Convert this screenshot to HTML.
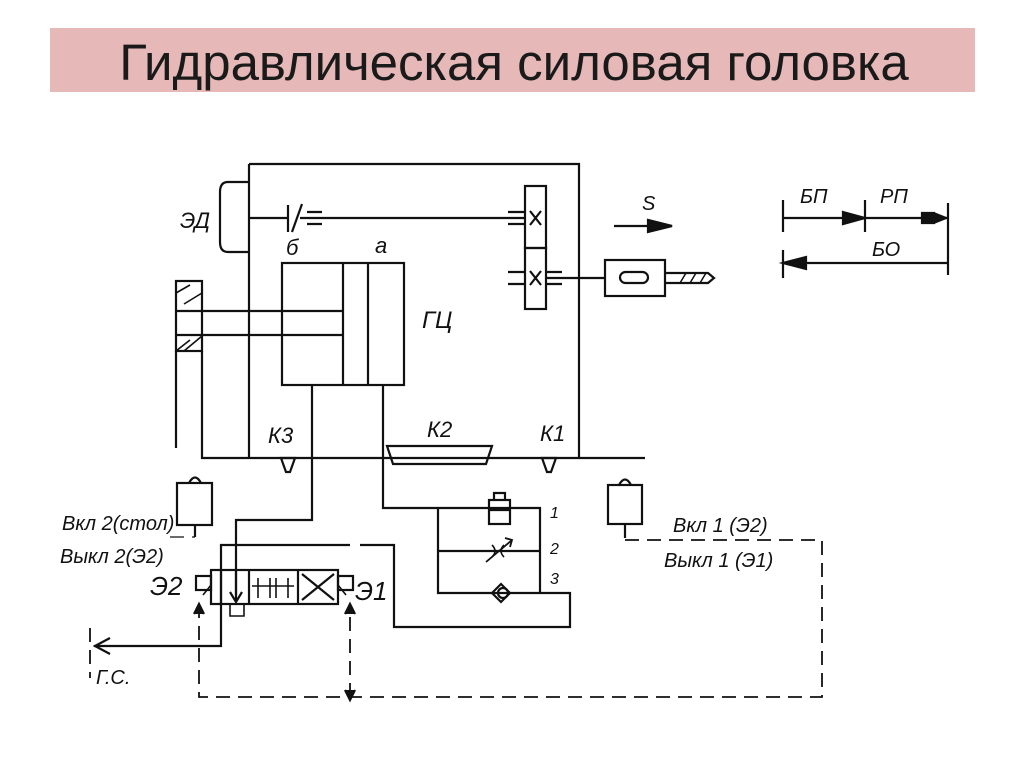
<!DOCTYPE html>
<html><head><meta charset="utf-8"><style>
body{margin:0;width:1024px;height:767px;background:#fff;overflow:hidden}
svg{display:block}
.t{font-family:"Liberation Sans","DejaVu Sans",sans-serif;font-style:italic;fill:#111}
</style></head><body>
<svg width="1024" height="767" viewBox="0 0 1024 767" xmlns="http://www.w3.org/2000/svg">
<rect x="50" y="28" width="925" height="64" fill="#e6b9b8"/>
<text x="514" y="80" text-anchor="middle" font-family="Liberation Sans, sans-serif" font-size="51" fill="#1a1a1a">Гидравлическая силовая головка</text>
<g stroke="#111" stroke-width="2.2" fill="none">
<path d="M249 164H579V458M249 164V458"/>
<path d="M249 182H228Q220 182 220 192V242Q220 252 228 252H249"/>
<path d="M249 218H288M300 218H525"/>
<path d="M288 205V232M292 232L302 204"/>
<path d="M307 212H322M307 224H322M508 212H525M508 224H525"/>
<rect x="525" y="186" width="21" height="62"/><rect x="525" y="248" width="21" height="61"/>
<path d="M530 211L541 225M541 211L530 225M530 271L541 285M541 271L530 285"/>
<path d="M508 272H525M508 284H525M546 272H562M546 284H562M546 278H605"/>
<rect x="605" y="260" width="60" height="36"/>
<rect x="620" y="272" width="28" height="11" rx="5.5"/>
<path d="M665 273H708L714 278L708 283H665"/>
<path d="M680 283L686 273M690 283L696 273M700 283L706 273" stroke-width="1.5"/>
<rect x="282" y="263" width="122" height="122"/>
<path d="M343 263V385M368 263V385"/>
<path d="M176 311H343M176 335H343"/>
<rect x="176" y="281" width="26" height="70"/>
<path d="M176 293L190 285M184 304L202 293M176 351L190 340M184 351L202 336" stroke-width="1.6"/>
<path d="M176 351V448M202 351V458H645"/>
<path d="M312 385V520H236V595M383 385V508H540V593M438 508V593H540"/>
<path d="M281 458L295 458L290 472H286Z"/>
<path d="M542 458L556 458L551 472H547Z"/>
<path d="M387 446H492L486 464H393Z"/>
<rect x="489" y="500" width="21" height="24"/><path d="M489 510H510M494 500V493H505V500"/>
<path d="M438 551H540"/><path d="M486 562L512 540M505 538L512 540L510 547" stroke-width="1.8"/>
<path d="M492 545Q498 551 492 557M504 545Q498 551 504 557" stroke-width="1.6"/>
<path d="M492 593L501 584L510 593L501 602Z"/><circle cx="503" cy="593" r="5"/>
<path d="M540 593H570V627H394V545H360M350 545H221V646H94"/>
<path d="M110 638L95 646L110 654"/>
<rect x="211" y="570" width="127" height="34"/>
<path d="M249 570V604M298 570V604"/>
<path d="M221 570V604M236 570V600M230 592L236 602L242 592"/>
<path d="M230 604V616H244V604" stroke-width="1.6"/>
<path d="M258 578V598M270 578V598M252 586H276M276 578V598M288 578V598M270 586H294" stroke-width="1.6"/>
<path d="M302 574L334 600M302 600L334 574"/>
<rect x="196" y="576" width="15" height="14"/><rect x="338" y="576" width="15" height="14"/>
<path d="M211 585L203 595M338 585L346 595" stroke-width="1.6"/>
<rect x="177" y="483" width="35" height="42"/><path d="M189 483Q195 472 201 483M195 525V537"/>
<rect x="608" y="485" width="34" height="39"/><path d="M619 485Q625 474 631 485M625 524V538"/>
<g stroke-dasharray="14 8" stroke-width="1.8">
<path d="M625 540H822V697H199V606M350 697V606"/>
<path d="M90 628V678"/>
<path d="M170 537H195" stroke-width="1.2"/>
</g>
<path d="M194 614L199 604L204 614M345 614L350 604L355 614" fill="#111"/>
<path d="M345 690L350 700L355 690" fill="#111"/>
<path d="M614 226H650"/><path d="M648 220L672 226L648 232Z" fill="#111"/>
<path d="M783 200V232M865 200V232M948 203V275M783 250V278M783 218H948M790 263H948"/>
<path d="M843 212L865 218L843 224Z" fill="#111"/>
<path d="M922 213H934V223H922Z M936 214L946 218L936 222Z" fill="#111"/>
<path d="M783 263L806 257V269Z" fill="#111"/>
</g>
<g class="t">
<text x="180" y="228" font-size="22">ЭД</text>
<text x="286" y="255" font-size="22">б</text>
<text x="375" y="253" font-size="22">а</text>
<text x="422" y="328" font-size="24">ГЦ</text>
<text x="268" y="443" font-size="22">К3</text>
<text x="427" y="437" font-size="22">К2</text>
<text x="540" y="441" font-size="22">К1</text>
<text x="642" y="210" font-size="20">S</text>
<text x="800" y="203" font-size="20">БП</text>
<text x="880" y="203" font-size="20">РП</text>
<text x="872" y="256" font-size="20">БО</text>
<text x="550" y="518" font-size="16">1</text>
<text x="550" y="554" font-size="16">2</text>
<text x="550" y="584" font-size="16">3</text>
<text x="62" y="530" font-size="20">Вкл 2(стол)</text>
<text x="60" y="563" font-size="20">Выкл 2(Э2)</text>
<text x="150" y="595" font-size="26">Э2</text>
<text x="355" y="600" font-size="26">Э1</text>
<text x="96" y="684" font-size="20">Г.С.</text>
<text x="673" y="532" font-size="20">Вкл 1  (Э2)</text>
<text x="664" y="567" font-size="20">Выкл 1 (Э1)</text>
</g>
</svg>
</body></html>
